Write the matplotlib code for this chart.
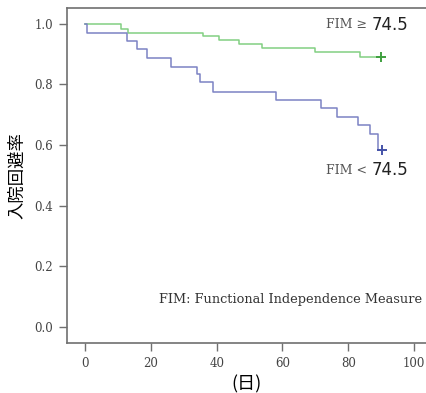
import matplotlib
matplotlib.use("Agg")
import matplotlib.pyplot as plt

# step times (days) and survival after each step
hi_times = [0, 10.8, 12.9, 35.7, 40.8, 46.9, 53.7, 69.9, 83.6, 90.0]
hi_surv = [1.0, 0.983, 0.970, 0.960, 0.947, 0.933, 0.920, 0.906, 0.892, 0.892]

lo_times = [0, 0.7, 12.8, 15.8, 18.7, 26.0, 33.9, 34.9, 38.8, 57.9,
            71.6, 76.5, 82.9, 86.6, 88.9, 90.4]
lo_surv = [1.0, 0.971, 0.944, 0.916, 0.889, 0.859, 0.834, 0.807, 0.776,
           0.749, 0.721, 0.692, 0.666, 0.635, 0.583, 0.583]

xticks = [0, 20, 40, 60, 80, 100]
yticks = [0.0, 0.2, 0.4, 0.6, 0.8, 1.0]

green = "#82d082"
blue = "#7c82c4"
spine_col = "#707070"

fig = plt.figure(figsize=(4.26, 3.93), dpi=100)
ax = fig.add_axes([0.157, 0.127, 0.843, 0.853])

ax.step(hi_times, hi_surv, where="post", color=green, lw=1.1)
ax.step(lo_times, lo_surv, where="post", color=blue, lw=1.1)
# censored ends
ax.plot(hi_times[-1], hi_surv[-1], marker="+", color="#3f9f3f", ms=7, mew=1.4)
ax.plot(lo_times[-1], lo_surv[-1], marker="+", color="#4452a8", ms=7, mew=1.4)

ax.set_xlim(-5.57, 103.65)
ax.set_ylim(-0.0545, 1.053)
ax.set_xticks(xticks)
ax.set_yticks(yticks)
ax.set_xticklabels([str(t) for t in xticks], family="DejaVu Serif", fontsize=8.5, color="#444444")
ax.set_yticklabels([f"{t:.1f}" for t in yticks], family="DejaVu Serif", fontsize=8.5, color="#444444")
ax.tick_params(length=6, width=1, color=spine_col, pad=4)

ax.spines["right"].set_visible(False)
for s in ["left", "bottom", "top"]:
    ax.spines[s].set_color(spine_col)
    ax.spines[s].set_linewidth(1.2)

cjk = ["Noto Sans CJK JP", "DejaVu Sans"]
ax.set_ylabel("入院回避率", family=cjk, fontsize=12.5, labelpad=6)
ax.set_xlabel("(日)", family=cjk, fontsize=13, labelpad=4)

# group labels
ax.text(73.2, 0.997, "FIM ≥", family="DejaVu Serif", fontsize=9, color="#555555", va="center")
ax.text(73.2, 0.517, "FIM <", family="DejaVu Serif", fontsize=9, color="#555555", va="center")
ax.text(87.2, 0.997, "74.5", family="DejaVu Sans", fontsize=12, color="#222222", va="center")
ax.text(87.2, 0.517, "74.5", family="DejaVu Sans", fontsize=12, color="#222222", va="center")

ax.text(22.5, 0.09, "FIM: Functional Independence Measure", family="DejaVu Serif",
        fontsize=9.3, color="#333333", va="center")

fig.savefig("out.png", dpi=100)
